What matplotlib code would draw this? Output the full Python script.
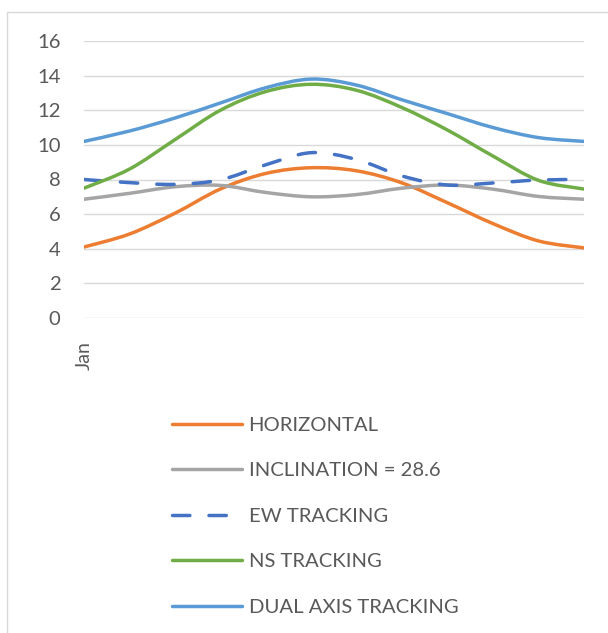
import matplotlib
matplotlib.use('Agg')
import matplotlib.pyplot as plt
from matplotlib.path import Path
from matplotlib.patches import PathPatch, Rectangle
from matplotlib.lines import Line2D

months = ['Jan', 'Feb', 'Mar', 'Apr', 'May', 'Jun', 'Jul', 'Aug', 'Sep', 'Oct', 'Nov', 'Dec']
tick_labels = ['Jan']
yticks = [0, 2, 4, 6, 8, 10, 12, 14, 16]

horizontal = [4.1, 4.85, 6.05, 7.45, 8.35, 8.68, 8.5, 7.8, 6.65, 5.45, 4.45, 4.05]
inclination = [6.86, 7.2, 7.58, 7.66, 7.25, 7.0, 7.13, 7.5, 7.68, 7.44, 7.02, 6.86]
ew_tracking = [8.0, 7.82, 7.72, 7.98, 8.85, 9.55, 9.15, 8.2, 7.68, 7.8, 7.97, 8.0]
ns_tracking = [7.5, 8.6, 10.3, 12.0, 13.08, 13.5, 13.15, 12.15, 10.85, 9.35, 7.95, 7.45]
dual_tracking = [10.2, 10.8, 11.55, 12.42, 13.3, 13.8, 13.45, 12.6, 11.8, 11.0, 10.42, 10.2]

series = [
    ('HORIZONTAL', horizontal, '#ED7D31', '-'),
    ('INCLINATION = 28.6', inclination, '#A5A5A5', '-'),
    ('EW TRACKING', ew_tracking, '#4472C4', (0, (5.0, 5.5))),
    ('NS TRACKING', ns_tracking, '#70AD47', '-'),
    ('DUAL AXIS TRACKING', dual_tracking, '#5B9BD5', '-'),
]

plt.rcParams['font.family'] = ['Lato', 'DejaVu Sans']
TXT = '#595959'
FS = 14.6
LW = 2.5

W, H = 608, 633
fig = plt.figure(figsize=(W / 100, H / 100), dpi=100)

# outer chart border
fig.patches.append(Rectangle((6.5 / W, -0.1), 1.2, (H - 12.5) / H + 0.1,
                             transform=fig.transFigure, fill=False,
                             edgecolor='#D9D9D9', lw=1.0))

ax = fig.add_axes([84 / W, (H - 318) / H, 500 / W, 277 / H])
ax.set_xlim(0, len(months) - 1)
ax.set_ylim(0, 16)
for s in ax.spines.values():
    s.set_visible(False)
ax.set_yticks(yticks)
ax.set_yticklabels([str(v) for v in yticks])
ax.set_xticks([0])
ax.set_xticklabels(tick_labels, rotation=90, va='top', ha='center')
ax.tick_params(axis='y', length=0, pad=17, labelsize=FS, labelcolor=TXT)
ax.tick_params(axis='x', length=0, pad=17, labelsize=14, labelcolor=TXT)
ax.grid(axis='y', color='#D9D9D9', lw=1.0)
ax.set_axisbelow(True)


def smooth_path(xs, ys):
    # Excel-style smoothed line: Bezier curve through the data points
    n = len(xs)
    verts = [(xs[0], ys[0])]
    codes = [Path.MOVETO]
    for i in range(n - 1):
        p0 = (xs[max(i - 1, 0)], ys[max(i - 1, 0)])
        p1 = (xs[i], ys[i])
        p2 = (xs[i + 1], ys[i + 1])
        p3 = (xs[min(i + 2, n - 1)], ys[min(i + 2, n - 1)])
        c1 = (p1[0] + (p2[0] - p0[0]) / 6, p1[1] + (p2[1] - p0[1]) / 6)
        c2 = (p2[0] - (p3[0] - p1[0]) / 6, p2[1] - (p3[1] - p1[1]) / 6)
        verts += [c1, c2, p2]
        codes += [Path.CURVE4] * 3
    return Path(verts, codes)


handles = []
xs = list(range(len(months)))
for i, (label, vals, color, ls) in enumerate(series):
    patch = PathPatch(smooth_path(xs, vals), fill=False, edgecolor=color,
                      lw=LW, ls=ls, capstyle='round', joinstyle='round',
                      zorder=3 + i)
    ax.add_patch(patch)
    h = Line2D([], [], color=color, lw=LW, ls=ls, solid_capstyle='round',
               dash_capstyle='round')
    handles.append(h)

fig.legend(handles, [s[0] for s in series], loc='upper left',
           bbox_to_anchor=(172 / W, 1 - 416.5 / H), frameon=False,
           borderpad=0, borderaxespad=0, handlelength=70 / 20.3,
           handletextpad=0.33, labelspacing=1.395, fontsize=FS,
           labelcolor=TXT)

fig.savefig('out.png', dpi=100)
